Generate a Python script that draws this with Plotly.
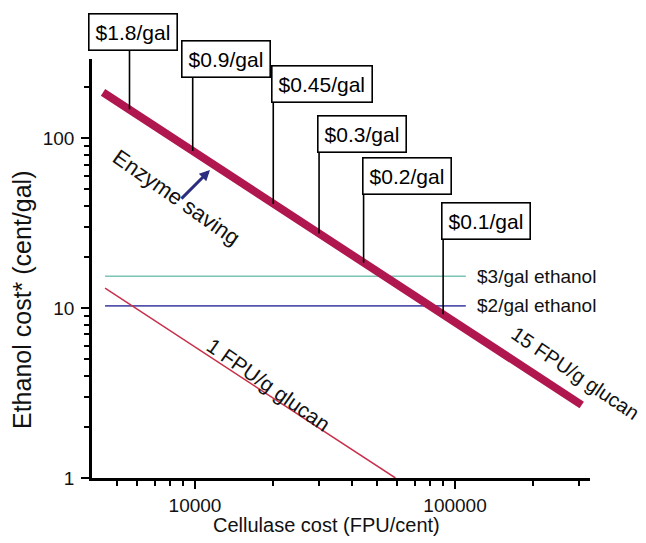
import math
import plotly.graph_objects as go

# ---- data ----
line15_x = [4430, 307000]          # 15 FPU/g glucan
line15_y = [186, 2.69]
line1_x = [4510, 59000]            # 1 FPU/g glucan
line1_y = [13.1, 1.0]
price3_x = [4510, 110000]          # $3/gal ethanol
price3_y = [15.4, 15.4]
price2_x = [4510, 110000]          # $2/gal ethanol
price2_y = [10.3, 10.3]
cost_labels = ["$1.8/gal", "$0.9/gal", "$0.45/gal", "$0.3/gal", "$0.2/gal", "$0.1/gal"]
cost_x = [5600, 9800, 20000, 30000, 44500, 90000]
cost_y = [148, 84, 41, 27.5, 18.5, 9.2]
saving_from = (8756, 43.2)
saving_to = (11420, 64.9)
x_ticks = [10000, 100000]
x_ticktext = ["10000", "100000"]
y_ticks = [1, 10, 100]
y_ticktext = ["1", "10", "100"]

# ---- layout geometry (reference pixels; page body adds an 8px offset) ----
OFF = 8
W, H = 646 - OFF, 543 - OFF
PX0, PX1, PY0, PY1 = 92, 590, 59, 478          # plot area in reference pixels
PW, PH = PX1 - PX0, PY1 - PY0
L, T = PX0 - OFF, PY0 - OFF
R, B = W - (PX1 - OFF), H - (PY1 - OFF)
X_RANGE = [3.604, 5.519]
Y_RANGE = [0.0, 2.466]

def px_to_paper(px, py):
    return (px - PX0) / PW, (PY1 - py) / PH

def py_to_ylog(py):
    return Y_RANGE[0] + (PY1 - py) / PH * (Y_RANGE[1] - Y_RANGE[0])

# box (left, top) in reference pixels
box_pos = [(88, 13), (181, 40), (271, 65), (317, 115), (361.5, 157), (441, 202)]
BOX_H = 40

FONT = "Liberation Sans, Arial, sans-serif"

fig = go.Figure()
fig.add_trace(go.Scatter(x=price3_x, y=price3_y, mode="lines",
                         line=dict(color="#7cc4b6", width=1.6), hoverinfo="skip"))
fig.add_trace(go.Scatter(x=price2_x, y=price2_y, mode="lines",
                         line=dict(color="#5454ac", width=1.8), hoverinfo="skip"))
fig.add_trace(go.Scatter(x=line1_x, y=line1_y, mode="lines",
                         line=dict(color="#c8304c", width=1.5), hoverinfo="skip"))
fig.add_trace(go.Scatter(x=line15_x, y=line15_y, mode="lines",
                         line=dict(color="#b0174e", width=8), hoverinfo="skip"))

annotations = []
# leader lines (arrows without heads), then boxes on top
for lab, cx, cy, (bl, bt) in zip(cost_labels, cost_x, cost_y, box_pos):
    annotations.append(dict(
        x=math.log10(cx), y=math.log10(cy), xref="x", yref="y",
        ax=math.log10(cx), ay=py_to_ylog(bt + BOX_H - 4), axref="x", ayref="y",
        text="", showarrow=True, arrowhead=0, arrowwidth=1.6, arrowcolor="black",
        standoff=0, startstandoff=0))
for lab, (bl, bt) in zip(cost_labels, box_pos):
    px, py = px_to_paper(bl, bt)
    annotations.append(dict(
        x=px, y=py, xref="paper", yref="paper", xanchor="left", yanchor="top",
        text=lab, showarrow=False, font=dict(family=FONT, size=21, color="black"),
        bgcolor="white", bordercolor="black", borderwidth=1.6, borderpad=6))

# enzyme saving arrow
annotations.append(dict(
    x=math.log10(saving_to[0]), y=math.log10(saving_to[1]), xref="x", yref="y",
    ax=math.log10(saving_from[0]), ay=math.log10(saving_from[1]), axref="x", ayref="y",
    text="", showarrow=True, arrowhead=2, arrowsize=0.7, arrowwidth=3,
    arrowcolor="#2c2c80", standoff=0))

# rotated labels
annotations.append(dict(x=3.9300, y=1.652, xref="x", yref="y", text="Enzyme saving",
                        xanchor="center", yanchor="middle",
                        showarrow=False, textangle=35,
                        font=dict(family=FONT, size=22, color="#111")))
annotations.append(dict(x=5.4615, y=0.619, xref="x", yref="y", text="15 FPU/g glucan",
                        xanchor="center", yanchor="middle",
                        showarrow=False, textangle=34,
                        font=dict(family=FONT, size=20, color="#111")))
annotations.append(dict(x=4.281, y=0.5487, xref="x", yref="y", text="1 FPU/g glucan",
                        xanchor="center", yanchor="middle",
                        showarrow=False, textangle=35,
                        font=dict(family=FONT, size=21, color="#111")))
# price labels
annotations.append(dict(x=math.log10(price3_x[-1]), y=math.log10(price3_y[-1]), xref="x", yref="y",
                        xanchor="left", yanchor="middle", xshift=9, text="$3/gal ethanol",
                        showarrow=False, font=dict(family=FONT, size=19, color="#111")))
annotations.append(dict(x=math.log10(price2_x[-1]), y=math.log10(price2_y[-1]), xref="x", yref="y",
                        xanchor="left", yanchor="middle", xshift=9, text="$2/gal ethanol",
                        showarrow=False, font=dict(family=FONT, size=19, color="#111")))
# axis titles
tx, ty = px_to_paper(326, 525)
annotations.append(dict(x=tx, y=ty, xref="paper", yref="paper", text="Cellulase cost (FPU/cent)",
                        xanchor="center", yanchor="middle",
                        showarrow=False, font=dict(family=FONT, size=20, color="#111")))
tx, ty = px_to_paper(22, 300)
annotations.append(dict(x=tx, y=ty, xref="paper", yref="paper", text="Ethanol cost* (cent/gal)",
                        xanchor="center", yanchor="middle",
                        showarrow=False, textangle=-90, font=dict(family=FONT, size=25, color="#111")))

minor_x = [m * 10 ** e for e in (3, 4, 5) for m in range(2, 10)]
minor_y = [m * 10 ** e for e in (0, 1, 2) for m in range(2, 10)]

axis_common = dict(type="log", showline=True, linecolor="black", linewidth=2.5,
                   ticks="outside", ticklen=8, tickwidth=2, tickcolor="black",
                   showgrid=False, zeroline=False, mirror=False, automargin=False,
                   tickfont=dict(family=FONT, size=19, color="#111"))
fig.update_layout(
    width=W, height=H, margin=dict(l=L, r=R, t=T, b=B, autoexpand=False),
    paper_bgcolor="white", plot_bgcolor="white", showlegend=False,
    font=dict(family=FONT, color="black"),
    xaxis=dict(range=X_RANGE, tickvals=x_ticks, ticktext=x_ticktext,
               minor=dict(tickvals=minor_x, ticks="outside", ticklen=5, tickwidth=2,
                          tickcolor="black", showgrid=False),
               **axis_common),
    yaxis=dict(range=Y_RANGE, tickvals=y_ticks, ticktext=y_ticktext, ticklabelstandoff=3,
               minor=dict(tickvals=minor_y, ticks="outside", ticklen=5, tickwidth=2,
                          tickcolor="black", showgrid=False),
               **axis_common),
    annotations=annotations,
)
fig.write_html("out.html")
